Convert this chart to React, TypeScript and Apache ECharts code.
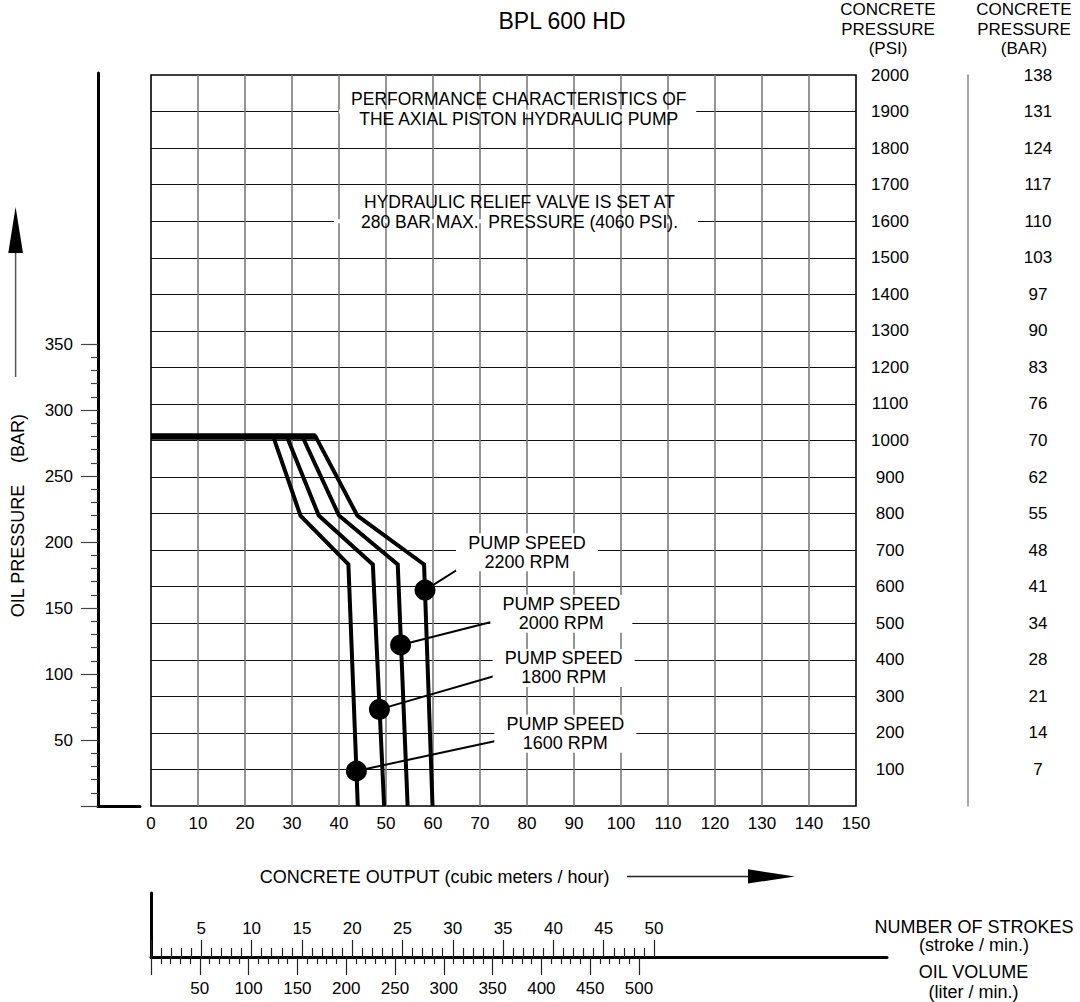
import React, { useEffect, useRef } from "react";
import * as echarts from "echarts";

// ---------------- data ----------------
const outputMax = 150; // m3/h
const outputStep = 10;
const psiMax = 2000;
const psiStep = 100;
const barEquivalent = [7, 14, 21, 28, 34, 41, 48, 55, 62, 70, 76, 83, 90, 97, 103, 110, 117, 124, 131, 138];
const oilPressureMax = 350;
const oilPressureStep = 50;
const barAtTop = 553.8; // oil pressure (bar) that coincides with 2000 psi line

const speeds = ["1600", "1800", "2000", "2200"];
const curve1600 = [[0, 280], [26, 280], [31.8, 220], [42, 183], [44, 0]];
const curve1800 = [[0, 280], [28.9, 280], [35.7, 220], [47.2, 183], [49.6, 0]];
const curve2000 = [[0, 280], [32.2, 280], [40, 220], [52.5, 183], [54.6, 0]];
const curve2200 = [[0, 280], [35, 280], [43.9, 220], [58.1, 183], [59.9, 0]];
const reliefLine = [[0, 280], [35, 280]];
const markerPoints = [[43.7, 26.5], [48.6, 73.2], [53.1, 122], [58.3, 163.6]];
const leaderEnds = [[75.3, 50.8], [75.3, 100.8], [74.9, 141.7], [68.1, 185.6]];
const labelCenters = [[88.15, 54.8], [87.8, 104.6], [87.3, 145.7], [80, 192.3]];

const noteTexts = [
  "PERFORMANCE CHARACTERISTICS OF\nTHE AXIAL PISTON HYDRAULIC PUMP",
  "HYDRAULIC RELIEF VALVE IS SET AT\n280 BAR MAX.  PRESSURE (4060 PSI).",
];
const noteCenters = [[78.25, 1906], [78.4, 1626]];
const noteGaps = [
  [[40, 1900], [116, 1900]],
  [[38.9, 1600], [116.4, 1600]],
];

const strokesMax = 50;
const strokesStep = 5;
const oilVolumeMax = 500;
const oilVolumeStep = 50;

// ---------------- layout ----------------
const FONT = '"Liberation Sans", Arial, Helvetica, sans-serif';
const INK = "#000";
const PL = 151, PT = 75, PW = 705, PH = 731;
const PB = PT + PH;
const pxPerBar = PH / barAtTop;

const txt = (x: number, y: number, text: string, size: number, extra: any = {}) => ({
  type: "text",
  x,
  y,
  silent: true,
  ...extra,
  style: {
    text,
    font: `${size}px ${FONT}`,
    fill: INK,
    textAlign: "center",
    align: "center",
    textVerticalAlign: "middle",
    verticalAlign: "middle",
    ...(extra.style || {}),
  },
});

const hidden = { show: false };

export default function App() {
  const ref = useRef<HTMLDivElement>(null);
  useEffect(() => {
    const chart = echarts.init(ref.current!, undefined, { renderer: "svg" });
    const curves = [curve1600, curve1800, curve2000, curve2200];
    const option: any = {
      animation: false,
      backgroundColor: "#fff",
      textStyle: { fontFamily: FONT },
      grid: [
        { left: PL, top: PT, width: PW, height: PH, show: true, borderColor: "#000", borderWidth: 1.6 },
        { left: 98, top: 73, width: 42, height: PB - 73 },
        { left: 98, top: PB - oilPressureMax * pxPerBar, width: 42, height: oilPressureMax * pxPerBar },
        { left: PL, top: 893, width: 736, height: 64 },
        { left: PL, top: 957, width: 503, height: 20 },
        { left: PL, top: 900, width: 488, height: 57 },
      ],
      xAxis: [
        {
          gridIndex: 0, type: "value", min: 0, max: outputMax, interval: outputStep,
          axisLine: { show: false, onZero: false }, axisTick: hidden,
          axisLabel: { fontSize: 17, color: INK, margin: 9, fontFamily: FONT },
          splitLine: { show: true, showMinLine: false, showMaxLine: false, lineStyle: { color: "#7a7a7a", width: 1.6 } },
        },
        {
          gridIndex: 1, type: "value", min: 0, max: 1,
          axisLine: { show: true, onZero: false, lineStyle: { color: "#000", width: 3 } },
          axisTick: hidden, axisLabel: hidden, splitLine: hidden,
        },
        { gridIndex: 2, type: "value", min: 0, max: 1, show: false },
        {
          gridIndex: 3, type: "value", min: 0, max: 1,
          axisLine: { show: true, onZero: false, lineStyle: { color: "#000", width: 3 } },
          axisTick: hidden, axisLabel: hidden, splitLine: hidden,
        },
        {
          gridIndex: 4, type: "value", position: "top", min: 0, max: strokesMax, interval: strokesStep,
          axisLine: { show: false, onZero: false },
          axisTick: { show: true, length: 17, lineStyle: { color: "#222", width: 1.2 } },
          minorTick: { show: true, splitNumber: 5, length: 9, lineStyle: { color: "#222", width: 1.2 } },
          axisLabel: { fontSize: 17, color: INK, margin: 20, fontFamily: FONT, formatter: (v: number) => (v === 0 ? "" : String(v)) },
          splitLine: hidden,
        },
        {
          gridIndex: 5, type: "value", position: "bottom", min: 0, max: oilVolumeMax, interval: oilVolumeStep,
          axisLine: { show: false, onZero: false },
          axisTick: { show: true, length: 18, lineStyle: { color: "#222", width: 1.2 } },
          minorTick: { show: true, splitNumber: 5, length: 7, lineStyle: { color: "#222", width: 1.2 } },
          axisLabel: { fontSize: 17, color: INK, margin: 23, fontFamily: FONT, formatter: (v: number) => (v === 0 ? "" : String(v)) },
          splitLine: hidden,
        },
      ],
      yAxis: [
        { gridIndex: 0, type: "value", min: 0, max: barAtTop, show: false },
        {
          gridIndex: 0, type: "value", position: "right", min: 0, max: psiMax, interval: psiStep,
          axisLine: { show: false, onZero: false }, axisTick: hidden,
          axisLabel: { fontSize: 17, color: INK, margin: 34, align: "center", fontFamily: FONT, formatter: (v: number) => (v === 0 ? "" : String(v)) },
          splitLine: { show: true, showMinLine: false, showMaxLine: false, lineStyle: { color: "#111", width: 1.2 } },
        },
        {
          gridIndex: 0, type: "value", position: "right", offset: 112, min: 0, max: psiMax, interval: psiStep,
          axisLine: { show: true, onZero: false, lineStyle: { color: "#888", width: 1.5 } }, axisTick: hidden,
          axisLabel: {
            fontSize: 17, color: INK, margin: 70, align: "center", fontFamily: FONT,
            formatter: (v: number) => (v === 0 ? "" : String(barEquivalent[Math.round(v / psiStep) - 1] ?? "")),
          },
          splitLine: hidden,
        },
        {
          gridIndex: 1, type: "value", min: 0, max: 1,
          axisLine: { show: true, onZero: false, lineStyle: { color: "#000", width: 3 } },
          axisTick: hidden, axisLabel: hidden, splitLine: hidden,
        },
        {
          gridIndex: 2, type: "value", min: 0, max: oilPressureMax, interval: oilPressureStep,
          axisLine: { show: false, onZero: false },
          axisTick: { show: true, length: 17, lineStyle: { color: "#444", width: 1.2 } },
          minorTick: { show: true, splitNumber: 5, length: 7, lineStyle: { color: "#444", width: 1.2 } },
          axisLabel: { fontSize: 17, color: INK, margin: 25, fontFamily: FONT, formatter: (v: number) => (v === 0 ? "" : String(v)) },
          splitLine: hidden,
        },
        {
          gridIndex: 3, type: "value", min: 0, max: 1,
          axisLine: { show: true, onZero: false, lineStyle: { color: "#000", width: 3 } },
          axisTick: hidden, axisLabel: hidden, splitLine: hidden,
        },
        { gridIndex: 4, type: "value", show: false },
        { gridIndex: 5, type: "value", show: false },
      ],
      series: [
        // white gaps in the grid lines behind the top notes
        ...noteGaps.map((g) => ({
          type: "line", xAxisIndex: 0, yAxisIndex: 1, data: g, showSymbol: false, silent: true, z: 1,
          lineStyle: { color: "#fff", width: 4 },
        })),
        {
          type: "scatter", xAxisIndex: 0, yAxisIndex: 1, silent: true, z: 4, symbolSize: 1,
          itemStyle: { color: "rgba(0,0,0,0)", opacity: 1 },
          data: noteTexts.map((t, i) => ({ name: t, value: noteCenters[i] })),
          label: {
            show: true, position: "inside", formatter: "{b}", fontSize: 17.5, lineHeight: 20, color: INK, fontFamily: FONT,
            align: "center", opacity: 1, textBorderWidth: 0,
          },
        },
        {
          type: "line", xAxisIndex: 0, yAxisIndex: 0, data: reliefLine, showSymbol: false, silent: true, z: 3,
          lineStyle: { color: "#000", width: 6.5 },
        },
        ...curves.map((c, i) => ({
          name: speeds[i] + " RPM", type: "line", xAxisIndex: 0, yAxisIndex: 0, data: c, showSymbol: false, silent: true, z: 3,
          lineStyle: { color: "#000", width: 4, join: "miter" },
        })),
        ...markerPoints.map((p, i) => ({
          type: "line", xAxisIndex: 0, yAxisIndex: 0, data: [p, leaderEnds[i]], showSymbol: false, silent: true, z: 3,
          lineStyle: { color: "#000", width: 2 },
        })),
        {
          type: "scatter", xAxisIndex: 0, yAxisIndex: 0, data: markerPoints, symbolSize: 21, silent: true, z: 5,
          itemStyle: { color: "#000", opacity: 1 },
        },
        {
          type: "scatter", xAxisIndex: 0, yAxisIndex: 0, silent: true, z: 4, symbolSize: 1,
          itemStyle: { color: "rgba(0,0,0,0)", opacity: 1 },
          data: speeds.map((s, i) => ({ name: `PUMP SPEED\n${s} RPM`, value: labelCenters[i] })),
          label: {
            show: true, position: "inside", formatter: "{b}", fontSize: 18, lineHeight: 19, color: INK, fontFamily: FONT,
            align: "center", backgroundColor: "#fff", padding: [0, 12], opacity: 1, textBorderWidth: 0,
          },
        },
      ],
      graphic: [
        txt(562, 21, "BPL 600 HD", 23),
        txt(888, 0, "CONCRETE\nPRESSURE\n(PSI)", 17, { style: { textVerticalAlign: "top", verticalAlign: "top", lineHeight: 19.5 } }),
        txt(1024, 0, "CONCRETE\nPRESSURE\n(BAR)", 17, { style: { textVerticalAlign: "top", verticalAlign: "top", lineHeight: 19.5 } }),
        txt(18, 551, "OIL PRESSURE", 18, { rotation: Math.PI / 2 }),
        txt(18, 438.5, "(BAR)", 18, { rotation: Math.PI / 2 }),
        { type: "line", silent: true, shape: { x1: 15.6, y1: 250, x2: 15.6, y2: 377 }, style: { stroke: "#555", lineWidth: 1.5 } },
        { type: "polygon", silent: true, shape: { points: [[15.6, 207], [8.3, 253], [23, 253]] }, style: { fill: "#000" } },
        txt(434.6, 876.5, "CONCRETE OUTPUT (cubic meters / hour)", 18),
        { type: "line", silent: true, shape: { x1: 627, y1: 876.5, x2: 752, y2: 876.5 }, style: { stroke: "#222", lineWidth: 1.3 } },
        { type: "polygon", silent: true, shape: { points: [[748, 869.3], [795, 876.5], [748, 883.5]] }, style: { fill: "#000" } },
        txt(974, 936, "NUMBER OF STROKES\n(stroke / min.)", 18, { style: { lineHeight: 18.3 } }),
        txt(973.5, 981.7, "OIL VOLUME\n(liter / min.)", 18, { style: { lineHeight: 20 } }),
      ],
    };
    chart.setOption(option);
    return () => chart.dispose();
  }, []);
  return (
    <div
      ref={ref}
      style={{ position: "absolute", left: 0, top: 0, width: 1080, height: 1002, background: "#fff" }}
    />
  );
}
